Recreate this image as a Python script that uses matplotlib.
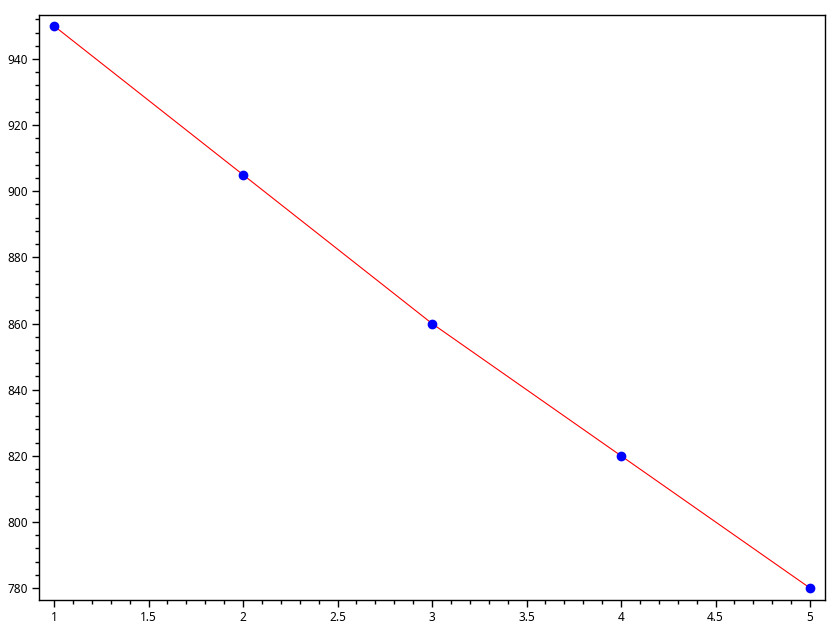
import matplotlib
matplotlib.use("Agg")
import matplotlib.pyplot as plt
from matplotlib.ticker import MultipleLocator, AutoMinorLocator

# data
x_vals = [1, 2, 3, 4, 5]
y_vals = [950, 905, 860, 820, 780]

plt.rcParams['font.family'] = ['Noto Sans', 'DejaVu Sans']

fig = plt.figure(figsize=(8.4, 6.3), dpi=100)
ax = fig.add_axes([39 / 840, 1 - 600 / 630, (825 - 39) / 840, (600 - 15) / 630])

ax.plot(x_vals, y_vals, color='red', linewidth=0.8, zorder=2)
ax.plot(x_vals, y_vals, linestyle='none', marker='o', markersize=6,
        color='blue', zorder=3)

ax.set_xlim(0.9206, 5.079)
ax.set_ylim(776.4, 953.3)

ax.xaxis.set_major_locator(MultipleLocator(0.5))
ax.xaxis.set_minor_locator(AutoMinorLocator(5))
ax.yaxis.set_major_locator(MultipleLocator(20))
ax.yaxis.set_minor_locator(AutoMinorLocator(5))

def fmt(v, pos):
    return ('%g' % v)
ax.xaxis.set_major_formatter(plt.FuncFormatter(fmt))

ax.tick_params(which='major', direction='out', length=5, width=1, labelsize=8.5, pad=3)
ax.tick_params(which='minor', direction='out', length=3, width=1)
for s in ax.spines.values():
    s.set_linewidth(1)

fig.savefig("out.png", dpi=100)
